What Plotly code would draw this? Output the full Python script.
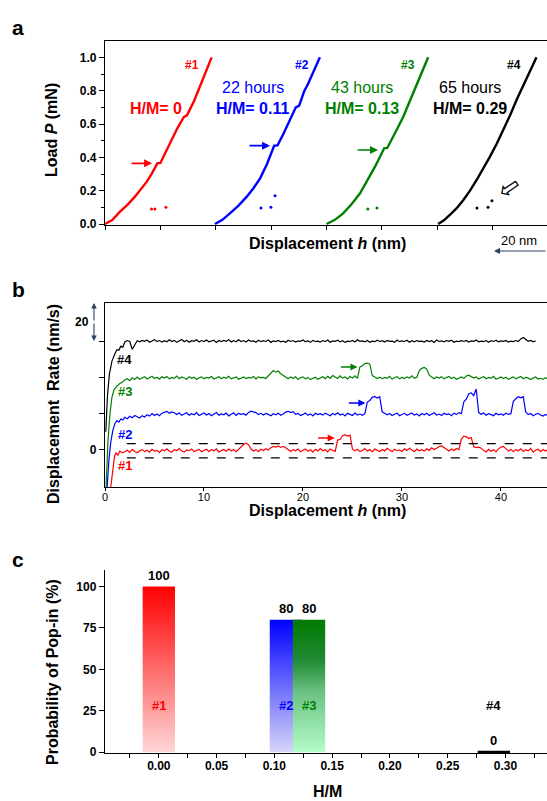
import plotly.graph_objects as go

W, H = 547, 801
FONT = 'Arial, Liberation Sans, sans-serif'
RED, BLUE, GREEN, BLACK = '#ff0000', '#0000ff', '#008000', '#000000'

# ---------------- panel a : load vs displacement (nm, mN) ----------------
h1 = [0, 2.7, 5.4, 8.1, 10.8, 13.0, 15.1, 17.0, 18.9, 20.0, 22.2, 24.1, 26.3, 28.5, 29.6, 32.2, 34.3, 36.4, 38.5]
p1 = [0, 0.025, 0.074, 0.115, 0.164, 0.21, 0.254, 0.305, 0.364, 0.366, 0.44, 0.514, 0.58, 0.642, 0.652, 0.74, 0.824, 0.91, 1.0]
h2 = [39.7, 42.4, 45.1, 48.2, 51.2, 53.6, 56.0, 58.5, 61.1, 62.3, 64.4, 66.2, 68.9, 70.1, 72.0, 73.3, 75.5, 77.6]
p2 = [0, 0.025, 0.064, 0.11, 0.164, 0.215, 0.274, 0.36, 0.47, 0.472, 0.54, 0.604, 0.70, 0.71, 0.80, 0.84, 0.92, 1.0]
h3 = [80.0, 83.0, 86.0, 89.0, 92.1, 94.8, 97.5, 99.2, 100.8, 101.9, 104.0, 105.3, 107.7, 110.1, 113.4, 116.7]
p3 = [0, 0.025, 0.064, 0.118, 0.184, 0.262, 0.344, 0.40, 0.454, 0.456, 0.52, 0.564, 0.644, 0.744, 0.87, 1.0]
h4 = [120.3, 122.4, 124.5, 127.0, 129.4, 131.8, 134.2, 136.6, 139.0, 141.4, 143.8, 146.2, 148.6, 152.2, 155.8]
p4 = [0, 0.022, 0.054, 0.095, 0.144, 0.2, 0.264, 0.33, 0.404, 0.48, 0.564, 0.65, 0.744, 0.87, 1.0]

# small unloading dots under each curve
dots_h = [[16.8, 18.0, 22.0], [56.3, 59.9, 61.4], [94.9, 98.2], [134.3, 138.3, 139.7]]
dots_p = [[0.09, 0.09, 0.10], [0.096, 0.10, 0.17], [0.09, 0.096], [0.096, 0.10, 0.14]]

hours = ['', '22 hours', '43 hours', '65 hours']
hm_text = ['H/M= 0', 'H/M= 0.11', 'H/M= 0.13', 'H/M= 0.29']
sample = ['#1', '#2', '#3', '#4']
popin_a = [(17.0, 0.364), (59.6, 0.47), (98.6, 0.444)]

# ---------------- panel b : displacement rate (offset per sample) ----------------
h_grid = [2.0, 2.25, 2.5, 2.75, 3.0, 3.25, 3.5, 3.75, 4.0, 4.25, 4.5, 4.75, 5.0, 5.25, 5.5, 5.75,
          6.0, 6.25, 6.5, 6.75, 7.0, 7.25, 7.5, 7.75, 8.0, 8.25, 8.5, 8.75, 9.0, 9.25, 9.5, 9.75,
          10.0, 10.25, 10.5, 10.75, 11.0, 11.25, 11.5, 11.75, 12.0, 12.25, 12.5, 12.75, 13.0, 13.25, 13.5, 13.75,
          14.0, 14.25, 14.5, 14.75, 15.0, 15.25, 15.5, 15.75, 16.0, 16.25, 16.5, 16.75, 17.0, 17.25, 17.5, 17.75,
          18.0, 18.25, 18.5, 18.75, 19.0, 19.25, 19.5, 19.75, 20.0, 20.25, 20.5, 20.75, 21.0, 21.25, 21.5, 21.75,
          22.0, 22.25, 22.5, 22.75, 23.0, 23.25, 23.5, 23.75, 24.0, 24.25, 24.5, 24.75, 25.0, 25.25, 25.5, 25.75,
          26.0, 26.25, 26.5, 26.75, 27.0, 27.25, 27.5, 27.75, 28.0, 28.25, 28.5, 28.75, 29.0, 29.25, 29.5, 29.75,
          30.0, 30.25, 30.5, 30.75, 31.0, 31.25, 31.5, 31.75, 32.0, 32.25, 32.5, 32.75, 33.0, 33.25, 33.5, 33.75,
          34.0, 34.25, 34.5, 34.75, 35.0, 35.25, 35.5, 35.75, 36.0, 36.25, 36.5, 36.75, 37.0, 37.25, 37.5, 37.75,
          38.0, 38.25, 38.5, 38.75, 39.0, 39.25, 39.5, 39.75, 40.0, 40.25, 40.5, 40.75, 41.0, 41.25, 41.5, 41.75,
          42.0, 42.25, 42.5, 42.75, 43.0, 43.25, 43.5, 43.75, 44.0, 44.25, 44.5, 44.75]

red_h0 = [0.55, 0.75, 0.95, 1.1, 1.3, 1.5, 1.75]
red_y0 = [-22, -11, -4, -1.5, -2.8, -0.6, -1.6]
red_y = [-1.0, -0.2, -1.3, 0.3, -0.8, -1.5, -0.4, 0.2,
         -0.9, -0.1, -1.2, 0.4, -0.6, -0.2, -1.4, 0.1,
         -0.5, 0.6, -0.7, -1.1, 0.2, -0.3, 0.8, -0.6,
         -1.2, 0.0, -0.4, 0.5, -0.9, -0.2, 0.3, -1.0,
         -0.3, 0.4, -0.8, 0.1, -0.5, 0.6, -1.1, -0.2,
         0.3, -0.7, 0.5, -0.4, 0.2, -0.9, 0.6, 1.5,
         3.0, 3.8, 2.9, 0.5, -0.6, 0.2, -0.9, 0.4,
         -0.3, 0.7, 0.0, 1.3, 2.0, 1.6, 2.2, 1.4,
         2.0, 1.2, 0.3, -0.8, 0.2, -0.4, 0.5, -1.0,
         -0.2, 0.6, -0.7, 0.1, -1.2, 0.3, -0.5, 0.8,
         -0.4, 0.2, -1.0, 0.5, -0.3, -0.8, 5.5, 5.8,
         7.9, 8.4, 7.7, 8.2, 0.4, -0.5, 0.4, -0.9,
         -0.3, 0.8, -0.6, 0.2, -1.1, 0.5, -0.2, -0.8,
         0.3, -0.5, 0.9, -0.2, -1.0, 0.4, -0.4, 0.1,
         -0.8, 0.6, -0.3, 1.0, -0.1, -0.9, 0.5, -0.4,
         0.2, -0.6, 0.7, -0.2, 1.2, 0.3, 1.0, 1.9,
         2.2, 1.5, 0.4, -0.6, 0.5, -0.3, 0.8, 0.2,
         6.0, 7.6, 7.2, 6.3, 6.8, 1.8, 1.3, 1.6,
         1.0, -0.2, -1.1, 0.4, -0.7, 0.1, -0.9, 0.6,
         1.6, 2.0, 0.5, -0.6, 0.3, -1.0, 0.2, -0.4,
         0.7, -0.8, 0.1, -0.5, 0.9, -1.2, -0.1, 0.4,
         -0.9, 0.3, -0.6, 0.2]

blue_h0 = [0.2, 0.4, 0.6, 0.8, 1.0, 1.2, 1.4, 1.6, 1.8]
blue_y0 = [-22, -5, 5, 11, 14.5, 16.2, 15.4, 17.1, 16.5]
blue_y = [18.0, 17.2, 18.6, 17.8, 19.0, 18.3, 17.6, 18.9,
          18.2, 19.4, 18.7, 20.1, 19.0, 19.8, 18.9, 20.3,
          20.8, 21.3, 20.2, 21.0, 20.5, 19.6, 20.4, 19.1,
          19.8, 20.5, 19.2, 20.0, 19.4, 20.6, 19.0, 19.9,
          20.4, 19.3, 20.1, 18.9, 19.7, 20.6, 19.2, 19.9,
          19.4, 20.3, 18.8, 19.9, 20.5, 19.1, 20.2, 19.6,
          20.0, 19.2, 20.7, 21.4, 21.0, 20.6, 19.5, 20.2,
          19.3, 20.1, 19.6, 18.9, 20.0, 19.4, 20.3, 19.1,
          19.8, 20.9, 21.3, 20.6, 21.1, 19.7, 20.2, 19.0,
          19.6, 20.4, 19.1, 19.9, 18.8, 20.2, 19.5, 20.0,
          19.2, 20.3, 19.6, 18.9, 20.1, 19.4, 20.5, 19.3,
          19.9, 18.8, 20.2, 19.5, 19.0, 20.4, 19.3, 19.8,
          19.1, 20.0, 26.4, 27.3, 29.0, 29.5, 28.6, 29.4,
          21.0, 20.2, 19.4, 20.1, 19.0, 19.7, 20.3, 18.9,
          19.6, 20.2, 19.1, 19.8, 20.4, 19.2, 19.9, 18.8,
          20.1, 19.4, 20.3, 19.0, 19.7, 20.5, 19.3, 19.8,
          19.0, 20.2, 19.5, 19.9, 18.9, 20.3, 19.6, 20.6,
          20.1, 26.5, 28.0, 31.0, 31.4, 30.0, 33.6, 20.6,
          19.7, 20.4, 19.2, 20.0, 19.5, 18.9, 20.2, 19.4,
          19.9, 19.1, 20.3, 19.6, 20.0, 26.8, 28.2, 29.3,
          28.7, 29.4, 21.0, 19.5, 20.1, 18.9, 19.7, 20.2,
          19.3, 18.7, 19.6, 19.0]

green_h0 = [0.1, 0.3, 0.5, 0.7, 0.9, 1.2, 1.5, 1.75]
green_y0 = [-22, 5, 20, 29, 33, 35.2, 36.6, 37.3]
green_y = [38.6, 39.3, 38.2, 39.8, 38.9, 40.2, 39.0, 39.7,
           40.4, 39.1, 39.8, 40.6, 39.4, 40.1, 39.0, 40.3,
           39.6, 40.5, 39.2, 40.0, 39.5, 40.7, 39.3, 40.2,
           39.7, 39.0, 40.4, 39.5, 40.1, 38.9, 39.8, 40.3,
           39.2, 40.0, 39.6, 40.5, 39.1, 39.9, 40.4, 39.3,
           40.1, 39.5, 40.6, 39.2, 39.9, 40.3, 39.0, 39.7,
           40.2, 39.4, 40.0, 39.6, 40.5, 39.1, 40.3, 39.8,
           40.0, 39.4, 41.0, 42.6, 43.8, 42.9, 43.5, 42.0,
           41.2, 40.0, 39.3, 40.2, 39.5, 40.4, 38.9, 39.8,
           40.3, 39.2, 40.0, 38.8, 39.6, 40.1, 39.0, 39.7,
           40.4, 39.3, 40.6, 39.5, 41.0, 40.2, 39.4, 40.8,
           39.6, 40.3, 39.1, 40.5, 39.7, 40.9, 39.5, 45.8,
           46.4, 47.6, 47.9, 47.3, 41.0, 40.2, 39.4, 40.1,
           39.3, 40.0, 39.5, 40.6, 39.1, 39.8, 40.4, 39.2,
           40.0, 39.4, 40.3, 39.7, 40.9, 39.5, 40.1, 43.8,
           45.0, 45.5, 44.6, 41.2, 40.0, 39.3, 40.2, 39.6,
           40.4, 39.2, 39.9, 40.5, 39.4, 40.1, 39.0, 39.7,
           40.3, 39.5, 40.8, 41.2, 40.4, 39.6, 40.2, 39.1,
           39.8, 40.4, 39.3, 40.0, 39.5, 40.6, 39.0, 39.7,
           40.2, 39.4, 40.1, 38.9, 39.6, 40.3, 39.2, 39.9,
           40.5, 39.3, 40.0, 39.6, 38.8, 39.7, 40.2, 39.1,
           39.5, 38.9, 39.8, 39.2]

black_h0 = [0.08, 0.25, 0.45, 0.7, 1.0, 1.2, 1.4, 1.6, 1.8]
black_y0 = [10, 30, 42, 49, 53, 55.3, 55.0, 57.2, 56.6]
black_y = [59.5, 60.3, 59.8, 55.5, 57.5, 60.2, 59.6, 60.4,
           59.9, 60.6, 59.4, 60.1, 60.8, 59.7, 60.3, 59.5,
           60.2, 59.6, 60.7, 59.8, 60.4, 59.3, 60.1, 60.9,
           59.7, 60.5, 59.4, 60.2, 59.9, 60.7, 59.5, 60.3,
           59.8, 60.6, 59.6, 60.0, 60.5, 59.2, 60.3, 59.7,
           60.4, 59.9, 60.8, 59.5, 60.2, 59.6, 60.7, 59.8,
           60.3, 59.5, 60.6, 59.9, 60.1, 59.4, 60.5, 59.7,
           60.2, 59.8, 60.6, 59.3, 60.1, 59.7, 60.4, 59.6,
           60.0, 59.4, 60.5, 59.8, 60.3, 59.5, 60.1, 59.9,
           60.6, 59.6, 60.2, 59.3, 60.4, 59.8, 60.0, 59.5,
           60.3, 59.7, 60.6, 59.4, 60.1, 59.9, 60.5, 59.6,
           60.2, 59.3, 60.0, 59.8, 60.4, 59.5, 60.7, 59.9,
           60.1, 59.6, 60.3, 59.4, 60.0, 59.7, 60.5, 59.8,
           60.2, 59.5, 60.4, 59.9, 60.0, 59.3, 60.6, 59.7,
           60.1, 59.8, 60.5, 59.4, 60.2, 59.6, 60.3, 59.9,
           60.0, 59.5, 60.4, 59.7, 60.2, 59.3, 60.6, 59.8,
           60.1, 59.6, 60.3, 59.9, 60.5, 59.4, 60.0, 59.7,
           60.2, 59.8, 60.4, 59.5, 60.1, 59.9, 60.6, 59.6,
           60.0, 59.7, 60.3, 59.4, 60.2, 59.8, 60.5, 59.6,
           60.1, 59.9, 60.4, 59.5, 60.0, 59.7, 60.3, 59.8,
           61.2, 62.0, 60.8, 59.9, 60.4, 59.6, 60.1]

band = [3.5, -4.4]            # dashed band around trace #1
label_b = [(2.0, -8.8), (2.0, 8.8), (2.0, 32.0), (2.0, 50.0)]
popin_b = [(23.2, 6.6), (26.3, 25.9), (25.5, 45.7)]

# ---------------- panel c : probability of pop-in ----------------
hm = [0.00, 0.11, 0.13, 0.29]
prob = [100, 80, 80, 0]
bar_scales = [
    [[0, '#ffd6d6'], [1, '#ff0000']],
    [[0, '#d6d6fa'], [1, '#0000ff']],
    [[0, '#b4fcc8'], [0.45, '#6cc283'], [0.7, '#1f8a33'], [1, '#007a00']],
    [[0, '#000000'], [1, '#000000']],
]
colors = [RED, BLUE, GREEN, BLACK]

fig = go.Figure()

# panel a
for h, p, c in zip([h1, h2, h3, h4], [p1, p2, p3, p4], colors):
    fig.add_trace(go.Scatter(x=h, y=p, mode='lines', line=dict(color=c, width=2.4),
                             xaxis='x', yaxis='y', showlegend=False))
for dh, dp, c in zip(dots_h, dots_p, colors):
    fig.add_trace(go.Scatter(x=dh, y=dp, mode='markers', marker=dict(color=c, size=3),
                             xaxis='x', yaxis='y', showlegend=False))

# panel b
for h0, y0, y, c in zip([red_h0, blue_h0, green_h0, black_h0],
                        [red_y0, blue_y0, green_y0, black_y0],
                        [red_y, blue_y, green_y, black_y], colors):
    assert len(y) <= len(h_grid)
    fig.add_trace(go.Scatter(x=h0 + h_grid[:len(y)], y=y0 + y, mode='lines',
                             line=dict(color=c, width=1.2), xaxis='x2', yaxis='y2',
                             showlegend=False))

# panel c - bars drawn as gradient-filled rectangles
bw = 0.028
for x, v, cs, c in zip(hm, prob, bar_scales, colors):
    xs = [x - bw / 2, x - bw / 2, x + bw / 2, x + bw / 2, x - bw / 2]
    ys = [0, v, v, 0, 0]
    if v > 0:
        fig.add_trace(go.Scatter(x=xs, y=ys, mode='lines', fill='toself',
                                 fillgradient=dict(type='vertical', colorscale=cs),
                                 line=dict(width=0), xaxis='x3', yaxis='y3', showlegend=False))
    else:
        fig.add_trace(go.Scatter(x=xs[1:3], y=ys[1:3], mode='lines',
                                 line=dict(color=c, width=3), xaxis='x3', yaxis='y3',
                                 showlegend=False))

ann = []


def txt(x, y, text, size, color=BLACK, xref='paper', yref='paper', bold=True, **kw):
    kw.setdefault('xanchor', 'center')
    kw.setdefault('yanchor', 'middle')
    ann.append(dict(x=x, y=y, xref=xref, yref=yref, text=f'<b>{text}</b>' if bold else text,
                    showarrow=False, font=dict(family=FONT, size=size, color=color), **kw))


def px(x, y):
    return x / W, 1 - y / H


# panel letters
for letter, yy in [('a', 28), ('b', 289), ('c', 559)]:
    txt(*px(18, yy), letter, 21)

# axis titles
txt(*px(52, 130), 'Load <i>P</i> (mN)', 16, textangle=-90)
txt(*px(327, 243), 'Displacement <i>h</i> (nm)', 16)
txt(*px(53, 404), 'Displacement  Rate (nm/s)', 16, textangle=-90)
txt(*px(327, 510), 'Displacement <i>h</i> (nm)', 16)
txt(*px(52, 672), 'Probability of Pop-in (%)', 16, textangle=-90)
txt(*px(327, 791), 'H/M', 16)

# panel a annotations
label_x = [31.4, 71.1, 109.4, 147.7]
text_x = [18.4, 53.4, 92.8, 131.8]
for i, c in enumerate(colors):
    txt(label_x[i], 0.957, sample[i], 12, c, 'x', 'y')
    txt(text_x[i], 0.696, hm_text[i], 16, c, 'x', 'y')
    if hours[i]:
        txt(text_x[i], 0.822, hours[i], 16, c, 'x', 'y', bold=False)
for (hx, py), c in zip(popin_a, colors):
    ann.append(dict(x=hx, y=py, xref='x', yref='y', ax=-22, ay=0, showarrow=True,
                    arrowhead=2, arrowsize=1, arrowwidth=1.6, arrowcolor=c, text=''))
txt(145.8, 0.216, '\u21e6', 26, BLACK, 'x', 'y', bold=False, textangle=-34)
txt(*px(519, 240), '20 nm', 13, bold=False)
ann.append(dict(x=494 / W, y=1 - 251 / H, xref='paper', yref='paper', ax=53, ay=0,
                showarrow=True, arrowhead=2, arrowsize=1, arrowwidth=1.2, text=''))

# panel b annotations
for (hx, yy), c, s in zip(label_b, colors, sample):
    txt(hx, yy, s, 13, c, 'x2', 'y2')
for (hx, yy), c in zip(popin_b, colors):
    ann.append(dict(x=hx, y=yy, xref='x2', yref='y2', ax=-18, ay=0, showarrow=True,
                    arrowhead=2, arrowsize=1, arrowwidth=1.4, arrowcolor=c, text=''))
txt(*px(82, 322), '20', 12)
for tip, off in [(303, 19), (341, -19)]:
    ann.append(dict(x=94 / W, y=1 - tip / H, xref='paper', yref='paper', ax=0, ay=off,
                    showarrow=True, arrowhead=2, arrowsize=1, arrowwidth=1.1, text=''))

# panel c annotations
for x, v, c, s in zip(hm, prob, colors, sample):
    txt(x, v, str(v), 13, BLACK, 'x3', 'y3', yanchor='bottom', yshift=2)
    txt(x, 28, s, 13, c, 'x3', 'y3')

shapes = [dict(type='line', xref='x2', yref='y2', x0=2.2, x1=44.65, y0=b, y1=b,
               line=dict(color=BLACK, width=1.2, dash='dash')) for b in band]

axis_common = dict(showgrid=False, zeroline=False, showline=True, linecolor=BLACK,
                   linewidth=1.4, ticks='outside', tickcolor=BLACK, tickwidth=1.2,
                   automargin=False)
xdom = [105 / W, 1.0]
tick_bold = dict(family=FONT, size=12, color=BLACK, weight='bold')

fig.update_layout(
    width=W, height=H, margin=dict(l=0, r=0, t=0, b=0, pad=0, autoexpand=False),
    paper_bgcolor='white', plot_bgcolor='white', font=dict(family=FONT),
    xaxis=dict(domain=xdom, range=[0, 159.6], anchor='y', mirror=True, dtick=20, tick0=0,
               ticklen=4, showticklabels=False, **axis_common),
    yaxis=dict(domain=[1 - 225 / H, 1 - 41 / H], range=[-0.006, 1.098], anchor='x', mirror=True,
               dtick=0.2, tick0=0, tickformat='.1f', ticklen=5, tickfont=tick_bold,
               minor=dict(ticks='outside', dtick=0.1, ticklen=3, tickcolor=BLACK), **axis_common),
    xaxis2=dict(domain=xdom, range=[0, 44.65], anchor='y2', mirror=True, dtick=10, tick0=0,
                ticklen=3, ticklabelstandoff=-3,
                tickfont=dict(family=FONT, size=11, color=BLACK), **axis_common),
    yaxis2=dict(domain=[1 - 487 / H, 1 - 303 / H], range=[-20.4, 81], anchor='x2', mirror=True,
                tickvals=[0, 20, 40, 60], ticktext=['0', '', '', ''], ticklen=5,
                tickfont=dict(family=FONT, size=12, color=BLACK, weight='bold'), **axis_common),
    xaxis3=dict(domain=xdom, range=[-0.0466, 0.336], anchor='y3', dtick=0.05, tick0=0,
                tickformat='.2f', ticklen=4, ticklabelstandoff=-3, tickfont=tick_bold,
                minor=dict(ticks='outside', dtick=0.025, ticklen=4, tickcolor=BLACK), **axis_common),
    yaxis3=dict(domain=[1 - 753 / H, 1 - 570 / H], range=[-0.5, 110], anchor='x3',
                tickvals=[0, 25, 50, 75, 100], ticklen=5, tickfont=tick_bold, **axis_common),
    annotations=ann, shapes=shapes,
)

# the page body has a default 8px margin; remove it so the figure fills the window exactly
fig.write_html("out.html", config={'displayModeBar': False},
               post_script="document.body.style.margin='0';document.body.style.overflow='hidden';")
